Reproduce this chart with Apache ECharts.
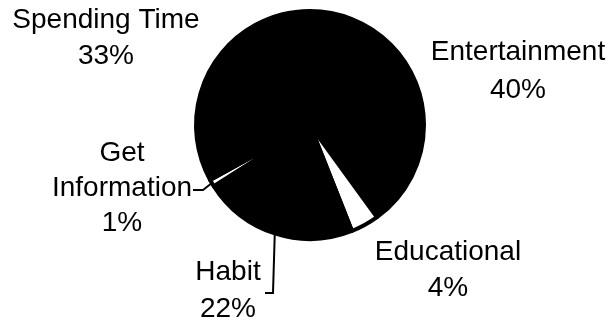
<!DOCTYPE html>
<html>
<head>
<meta charset="utf-8">
<script src="https://cdn.jsdelivr.net/npm/echarts@6/dist/echarts.min.js"></script>
<style>
html,body{margin:0;padding:0;background:#fff;}
#chart{width:611px;height:327px;}
</style>
</head>
<body>
<div id="chart"></div>
<script>
// Data
var categories = ['Entertainment', 'Educational', 'Habit', 'Get Information', 'Spending Time'];
var values = [40, 4, 22, 1, 33];

// Styling (kept separate from data)
var sliceColors = ['#000000', '#ffffff', '#000000', '#ffffff', '#000000'];
var labelCenters = [[518, 71], [448, 270], [228, 291], [122, 188], [106, 38]];
var labelLineHeights = [38, 36, 37, 35, 36];
var showLines = [false, false, true, true, false];

var chart = echarts.init(document.getElementById('chart'), null, {renderer: 'canvas'});

var seriesData = categories.map(function (c, i) {
  return {
    name: c,
    value: values[i],
    itemStyle: {color: sliceColors[i]},
    label: {lineHeight: labelLineHeights[i]},
    labelLine: {show: showLines[i]}
  };
});

chart.setOption({
  animation: false,
  backgroundColor: '#ffffff',
  series: [{
    type: 'pie',
    center: [310, 125],
    radius: 114,
    startAngle: 90,
    clockwise: true,
    avoidLabelOverlap: false,
    itemStyle: {borderColor: '#000000', borderWidth: 4},
    emphasis: {disabled: true},
    label: {
      show: true,
      position: 'outside',
      color: '#000000',
      fontFamily: 'Liberation Sans, Arial, sans-serif',
      fontSize: 28,
      align: 'center',
      formatter: function (p) {
        var n = p.name === 'Get Information' ? 'Get\nInformation' : p.name;
        return n + '\n' + Math.round(p.percent) + '%';
      }
    },
    labelLine: {
      lineStyle: {color: '#000000', width: 2}
    },
    labelLayout: function (params) {
      var i = params.dataIndex;
      var c = labelCenters[i];
      var out = {x: c[0], y: c[1], align: 'center', verticalAlign: 'middle', hideOverlap: false, moveOverlap: false};
      var pts = params.labelLinePoints;
      if (pts && pts.length) {
        var p0 = pts[0];
        if (i === 2) {
          out.labelLinePoints = [p0, [273, 293], [265, 293]];
        } else if (i === 3) {
          out.labelLinePoints = [p0, [203, 190], [193, 190]];
        }
      }
      return out;
    },
    data: seriesData
  }]
});
</script>
</body>
</html>
